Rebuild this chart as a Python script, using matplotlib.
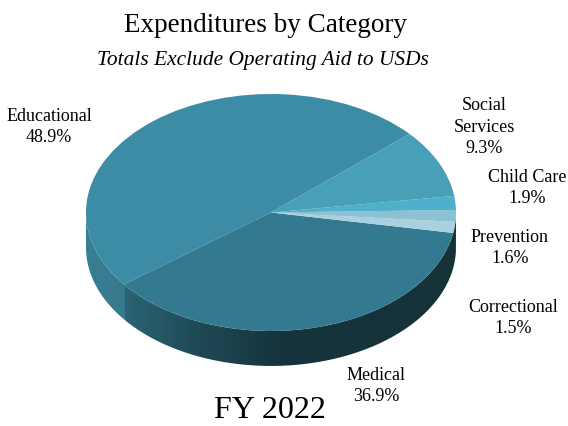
import numpy as np
import matplotlib
matplotlib.use("Agg")
import matplotlib.pyplot as plt
from matplotlib.colors import LinearSegmentedColormap
from matplotlib.patches import PathPatch
from matplotlib.path import Path

plt.rcParams['font.family'] = ['Liberation Serif', 'DejaVu Serif']

# Data, in the order the slices go round counter-clockwise
categories = ["Educational", "Medical", "Correctional", "Prevention", "Child Care", "Social\nServices"]
shares = [48.9, 36.9, 1.5, 1.6, 1.9, 9.3]
slice_colors = ["#3d8ca6", "#337a90", "#a8d0de", "#8cc0d2", "#4fb0cb", "#479fb8"]

W, H = 568, 426
start_angle = 41.5
depth = 0.295


fig = plt.figure(figsize=(W / 100, H / 100), dpi=100)

# Axes is set so that y -1..1 is the top face of the pie (an ellipse),
# with extra room below for the side wall
cx, cy, rx, ry = 271, 212.5, 185, 118.5
ax = fig.add_axes([(cx - rx) / W, 1 - (cy + ry + depth * ry) / H, 2 * rx / W, (2 + depth) * ry / H])
ax.pie(shares, colors=slice_colors, startangle=start_angle, radius=1,
       wedgeprops=dict(linewidth=0))
ax.set_aspect('auto')

# Side wall of the pie, gradient clipped to the lower rim
seam = start_angle + shares[0] * 3.6
seam_x = np.cos(np.radians(seam))
t = (seam_x + 1) / 2
wall_cmap = LinearSegmentedColormap.from_list("wall", [
    (0.0, "#3a7e93"),
    (t - 0.001, "#38788c"),
    (t, "#2b6475"),
    (0.3, "#1f4a56"),
    (0.52, "#16343d"),
    (1.0, "#153238"),
])
theta = np.linspace(np.pi, 2 * np.pi, 200)
top = np.column_stack([np.cos(theta), np.sin(theta)])
bottom = top[::-1] - [0, depth]
wall_path = Path(np.vstack([top, bottom, top[:1]]))
img = ax.imshow(np.linspace(0, 1, 512).reshape(1, -1), cmap=wall_cmap, vmin=0, vmax=1,
                extent=(-1, 1, -1 - depth, 0), aspect='auto', zorder=0.5)
ax.set_xlim(-1, 1)
ax.set_ylim(-1 - depth, 1)
ax.set_aspect('auto')
clip = PathPatch(wall_path, transform=ax.transData, facecolor='none', edgecolor='none')
img.set_clip_path(clip)


def put(x, y, s, **kw):
    fig.text(x / W, 1 - y / H, s, ha='center', va='center', color='black', **kw)


put(266, 25, "Expenditures by Category", fontsize=19.5)
put(263, 60, "Totals Exclude Operating Aid to USDs", fontsize=15.4, style='italic')
put(270, 410, "FY 2022", fontsize=23)

# Slice labels
label_pos = [(49, 127), (376, 386), (513, 318), (510, 248), (527, 188), (484, 127)]
for name, share, (x, y) in zip(categories, shares, label_pos):
    put(x, y, f"{name}\n{share}%", fontsize=13, linespacing=1.32)

fig.savefig("out.png", dpi=100, facecolor='white')
